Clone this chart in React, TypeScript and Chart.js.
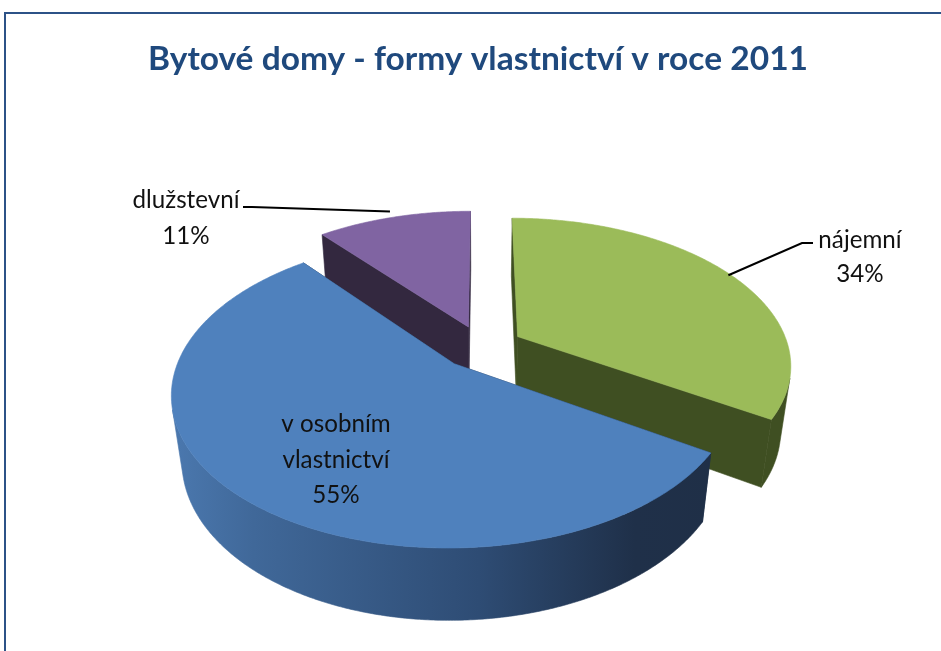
import React, { useEffect, useRef } from 'react';
import { Chart, registerables } from 'chart.js';

Chart.register(...registerables);

// ---- data ----
const titleText = 'Bytové domy - formy vlastnictví v roce 2011';
const categories = ['nájemní', 'v osobním vlastnictví', 'dlužstevní'];
const values = [34, 55, 11];

// ---- styles ----
const topColors = ['#9BBB59', '#4F81BD', '#8064A2'];
const sideColors = ['#3F4F22', '#1F3049', '#33283F'];
const ELEV = (32 * Math.PI) / 180;
const CAM = 4.63; // camera distance in radius units
const THICK = 0.29; // pie thickness in radius units
const EXPLODE = 0.152; // explosion in radius units

const labelStyles = [
  { cx: 860, base: 248, lh: 34, leader: [[813, 243], [802, 243]], anchorR: 0.99 },
  { cx: 336, base: 432, lh: 35.5, leader: null as null | number[][], anchorR: 1 },
  { cx: 186, base: 208, lh: 36, leader: [[243, 207], [252, 207]], anchorR: 1.06 },
];

function wrap(name: string): string[] {
  if (name.length > 12 && name.includes(' ')) {
    const i = name.lastIndexOf(' ');
    return [name.slice(0, i), name.slice(i + 1)];
  }
  return [name];
}

const pie3d = {
  id: 'pie3d',
  beforeDatasetsDraw(chart: any) {
    const ctx: CanvasRenderingContext2D = chart.ctx;
    const meta = chart.getDatasetMeta(0);
    const arcs = meta.data as any[];
    const cx = arcs[0].x;
    const cy = arcs[0].y;
    const R = arcs[0].outerRadius;
    const F = R * CAM;
    const sinE = Math.sin(ELEV);
    const cosE = Math.cos(ELEV);
    const proj = (X: number, Y: number, Z: number) => {
      const zc = CAM - (Y * sinE + Z * cosE);
      return [cx + (F * X) / zc, cy - (F * (Y * cosE - Z * sinE)) / zc];
    };
    const camZ = CAM * cosE;

    const slices = arcs.map((a: any, i: number) => {
      const s = a.startAngle;
      const e = a.endAngle;
      const mid = (s + e) / 2;
      return { i, s, e, mid, ox: EXPLODE * Math.cos(mid), oz: EXPLODE * Math.sin(mid) };
    });
    const order = [...slices].sort((p, q) => Math.sin(p.mid) - Math.sin(q.mid));

    const blueGrad = ctx.createLinearGradient(cx - 1.12 * R, 0, cx + 0.86 * R, 0);
    blueGrad.addColorStop(0, '#4A77AD');
    blueGrad.addColorStop(0.14, '#406899');
    blueGrad.addColorStop(0.56, '#2E4C74');
    blueGrad.addColorStop(0.85, '#1F3049');
    blueGrad.addColorStop(1, '#1F2F47');

    const poly = (pts: number[][], fill: any) => {
      ctx.beginPath();
      pts.forEach((p, k) => (k ? ctx.lineTo(p[0], p[1]) : ctx.moveTo(p[0], p[1])));
      ctx.closePath();
      ctx.fillStyle = fill;
      ctx.fill();
      ctx.strokeStyle = fill;
      ctx.lineWidth = 0.6;
      ctx.stroke();
    };

    ctx.save();
    for (const sl of order) {
      const { ox, oz, s, e, i } = sl;
      const side = i === 1 ? blueGrad : sideColors[i];
      // radial faces
      for (const a of [s, e]) {
        const pts = [
          proj(ox, 0, oz),
          proj(ox + Math.cos(a), 0, oz + Math.sin(a)),
          proj(ox + Math.cos(a), -THICK, oz + Math.sin(a)),
          proj(ox, -THICK, oz),
        ];
        poly(pts, sideColors[i]);
      }
      // outer wall (visible runs)
      const n = Math.max(8, Math.ceil(((e - s) * 180) / Math.PI / 0.5));
      let run: number[] = [];
      const runs: number[][] = [];
      for (let k = 0; k <= n; k++) {
        const a = s + ((e - s) * k) / n;
        const X = ox + Math.cos(a);
        const Z = oz + Math.sin(a);
        const vis = Math.cos(a) * (0 - X) + Math.sin(a) * (camZ - Z) > 0;
        if (vis) run.push(a);
        else if (run.length) {
          runs.push(run);
          run = [];
        }
      }
      if (run.length) runs.push(run);
      for (const r of runs) {
        if (r.length < 2) continue;
        const top = r.map((a) => proj(ox + Math.cos(a), 0, oz + Math.sin(a)));
        const bot = r.map((a) => proj(ox + Math.cos(a), -THICK, oz + Math.sin(a))).reverse();
        poly([...top, ...bot], side);
      }
      // top face
      const tp = [proj(ox, 0, oz)];
      for (let k = 0; k <= n; k++) {
        const a = s + ((e - s) * k) / n;
        tp.push(proj(ox + Math.cos(a), 0, oz + Math.sin(a)));
      }
      poly(tp, topColors[i]);
    }

    // labels and leader lines
    const total = values.reduce((p, q) => p + q, 0);
    ctx.font = '25px Lato';
    const lsx = 107 / ctx.measureText('dlužstevní').width;
    slices.forEach((sl) => {
      const st = labelStyles[sl.i];
      const lines = [...wrap(categories[sl.i]), Math.round((values[sl.i] / total) * 100) + '%'];
      ctx.fillStyle = '#111';
      lines.forEach((t, k) => {
        ctx.save();
        ctx.font = '25px Lato';
        ctx.textAlign = 'center';
        ctx.textBaseline = 'alphabetic';
        ctx.translate(st.cx, st.base + k * st.lh);
        ctx.scale(lsx, 1);
        ctx.fillText(t, 0, 0);
        ctx.restore();
      });
      if (st.leader) {
        const ar = st.anchorR;
        const anc = proj(sl.ox + ar * Math.cos(sl.mid), 0, sl.oz + ar * Math.sin(sl.mid));
        ctx.beginPath();
        ctx.moveTo(st.leader[0][0], st.leader[0][1]);
        ctx.lineTo(st.leader[1][0], st.leader[1][1]);
        ctx.lineTo(anc[0], anc[1]);
        ctx.strokeStyle = '#000';
        ctx.lineWidth = 2;
        ctx.stroke();
      }
    });
    ctx.restore();
    return false;
  },
  afterDraw(chart: any) {
    const ctx: CanvasRenderingContext2D = chart.ctx;
    ctx.save();
    // chart area border (extends beyond the view)
    ctx.strokeStyle = '#2C5287';
    ctx.lineWidth = 2;
    ctx.beginPath();
    ctx.moveTo(5, 700);
    ctx.lineTo(5, 13);
    ctx.lineTo(1000, 13);
    ctx.stroke();
    // title
    ctx.font = 'bold 32px Lato';
    const tsx = 660 / ctx.measureText(titleText).width;
    ctx.fillStyle = '#1F497D';
    ctx.textAlign = 'center';
    ctx.textBaseline = 'alphabetic';
    ctx.translate(478, 70);
    ctx.scale(tsx, 1);
    ctx.fillText(titleText, 0, 0);
    ctx.restore();
  },
};

export default function App() {
  const ref = useRef<HTMLCanvasElement>(null);
  useEffect(() => {
    if (!ref.current) return;
    const chart = new Chart(ref.current, {
      type: 'pie',
      data: {
        labels: categories,
        datasets: [{ data: values, backgroundColor: topColors, borderWidth: 0 }],
      },
      options: {
        responsive: false,
        animation: false,
        devicePixelRatio: 1,
        events: [],
        layout: { padding: { left: 211, right: 188, top: 76, bottom: 33 } },
        plugins: { legend: { display: false }, tooltip: { enabled: false }, title: { display: false } },
      },
      plugins: [pie3d],
    });
    return () => chart.destroy();
  }, []);
  return (
    <canvas
      ref={ref}
      width={941}
      height={651}
      style={{ position: 'fixed', left: 0, top: 0, width: 941, height: 651, display: 'block', background: '#fff' }}
    />
  );
}
